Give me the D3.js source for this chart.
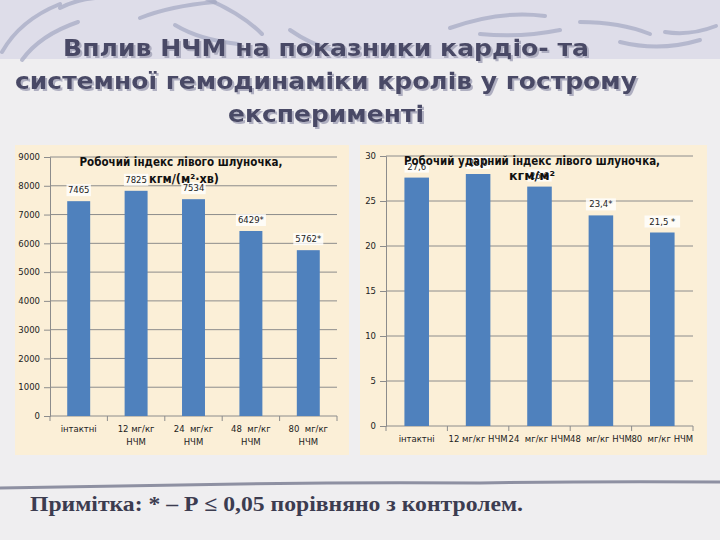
<!DOCTYPE html>
<html>
<head>
<meta charset="utf-8">
<script src="https://cdn.jsdelivr.net/npm/d3@7/dist/d3.min.js"></script>
<style>
  body { margin: 0; background: #eeedf1; }
  svg { display: block; }
</style>
</head>
<body>
<svg id="slide" width="720" height="540"></svg>
<script>
// data
const groups = ["інтактні", "12 мг/кг НЧМ", "24  мг/кг НЧМ", "48  мг/кг НЧМ", "80  мг/кг НЧМ"];
const workIndex = [7465, 7825, 7534, 6429, 5762];
const workLabels = ["7465", "7825", "7534", "6429*", "5762*"];
const workTicks = [0, 1000, 2000, 3000, 4000, 5000, 6000, 7000, 8000, 9000];
const strokeIndex = [27.6, 28.0, 26.6, 23.4, 21.5];
const strokeLabels = ["27,6", "28,0", "26,6", "23,4*", "21,5 *"];
const strokeTicks = [0, 5, 10, 15, 20, 25, 30];

const titleLines = ["Вплив НЧМ на показники кардіо- та", "системної гемодинаміки кролів у гострому", "експерименті"];
const note = "Примітка: * – Р ≤ 0,05 порівняно з контролем.";

const svg = d3.select("#slide");

const defs = svg.append("defs");
defs.append("filter").attr("id", "shadow").attr("x", "-5%").attr("y", "-20%").attr("width", "110%").attr("height", "140%")
  .append("feDropShadow").attr("dx", 2).attr("dy", 2).attr("stdDeviation", 0.6)
  .attr("flood-color", "#a8a8bc").attr("flood-opacity", 0.9);

// background
svg.append("rect").attr("width", 720).attr("height", 540).attr("fill", "#efeef0");
svg.append("rect").attr("width", 720).attr("height", 59).attr("fill", "#dedde9");

// decorative swooshes at the top
const swooshes = [
  "M2,52 Q20,20 60,4", "M22,60 Q40,35 78,22", "M60,8 Q75,0 95,-2",
  "M140,18 Q170,6 215,2", "M175,25 Q200,40 238,44", "M200,-4 Q240,12 262,34",
  "M290,30 Q310,44 332,50",
  "M450,28 Q500,10 545,16", "M480,34 Q520,38 560,30",
  "M580,22 Q620,22 650,34", "M620,42 Q660,52 700,40", "M665,32 Q690,36 716,26"
];
svg.append("g").selectAll("path").data(swooshes).join("path")
  .attr("d", d => d).attr("fill", "none").attr("stroke", "#a4a8c2")
  .attr("stroke-width", 4).attr("stroke-linecap", "round").attr("opacity", 0.7);

// title
const title = svg.append("g").attr("font-family", "'DejaVu Sans Condensed', 'DejaVu Sans', sans-serif")
  .attr("font-weight", "bold").attr("font-size", 23).attr("text-anchor", "middle")
  .attr("filter", "url(#shadow)");
const titleY = [56, 89, 122];
const titleW = [526, 622, 196];
title.selectAll(null).data(titleLines).join("text")
  .attr("x", 326).attr("y", (d, i) => titleY[i])
  .attr("textLength", (d, i) => titleW[i]).attr("lengthAdjust", "spacingAndGlyphs")
  .attr("fill", "#4a4a66").text(d => d);

function drawChart(o) {
  const g = svg.append("g").attr("font-family", "'DejaVu Sans', sans-serif");
  g.append("rect").attr("x", o.panel[0]).attr("y", o.panel[1])
    .attr("width", o.panel[2]).attr("height", o.panel[3]).attr("fill", "#fbefd7");

  const x = d3.scaleBand().domain(groups).range([o.x0, o.x1]).paddingInner(0.6).paddingOuter(0.3);
  const y = d3.scaleLinear().domain([0, o.max]).range([o.y0, o.y1]);

  // grid
  g.append("g").selectAll("line").data(o.ticks.slice(1)).join("line")
    .attr("x1", o.x0).attr("x2", o.x1).attr("y1", d => y(d)).attr("y2", d => y(d))
    .attr("stroke", "#8c8c8c").attr("stroke-width", 1);

  // y axis
  const ya = g.append("g").attr("transform", `translate(${o.x0},0)`)
    .call(d3.axisLeft(y).tickValues(o.ticks).tickFormat(d3.format("d")).tickSize(6).tickPadding(4));
  ya.selectAll("path, line").attr("stroke", "#8c8c8c");
  ya.selectAll("text").attr("font-size", 8.5).attr("fill", "#222").attr("font-family", "'DejaVu Sans', sans-serif");

  // x axis line and boundary ticks
  g.append("line").attr("x1", o.x0).attr("x2", o.x1).attr("y1", o.y0).attr("y2", o.y0).attr("stroke", "#8c8c8c");
  const bounds = groups.map(d => x(d) - x.step() * 0.3).concat([o.x1]);
  g.append("g").selectAll("line").data(bounds).join("line")
    .attr("x1", d => d).attr("x2", d => d).attr("y1", o.y0).attr("y2", o.y0 + 5).attr("stroke", "#8c8c8c");

  // bars
  g.append("g").selectAll("rect").data(o.values).join("rect")
    .attr("x", (d, i) => x(groups[i])).attr("width", x.bandwidth())
    .attr("y", d => y(d)).attr("height", d => o.y0 - y(d)).attr("fill", "#4f81bd");

  // data labels
  const lab = g.append("g").selectAll("g").data(o.values).join("g")
    .attr("transform", (d, i) => `translate(${x(groups[i]) + x.bandwidth() / 2},${y(d) - 11})`);
  lab.append("rect").attr("x", (d, i) => -o.labels[i].length * 2.8 - 1).attr("y", -6)
    .attr("width", (d, i) => o.labels[i].length * 5.6 + 2).attr("height", 12).attr("fill", "#ffffff").attr("opacity", 0.8);
  lab.append("text").attr("text-anchor", "middle").attr("dy", 3).attr("font-size", 8.5).attr("fill", "#222")
    .text((d, i) => o.labels[i]);

  // category labels
  const cl = g.append("g").attr("font-size", 8.5).attr("fill", "#222").attr("text-anchor", "middle");
  groups.forEach(name => {
    const cx = x(name) + x.bandwidth() / 2;
    const lines = o.wrap ? name.split(/(?=НЧМ)/).map(s => s.trim()) : [name];
    lines.forEach((ln, k) => {
      cl.append("text").attr("x", cx).attr("y", o.y0 + 16 + k * 13).attr("xml:space", "preserve").text(ln);
    });
  });

  // chart title
  const t = g.append("g").attr("font-weight", "bold").attr("font-size", 13).attr("fill", "#111").attr("text-anchor", "middle");
  o.title.forEach((ln, k) => {
    const tx = t.append("text").attr("x", o.titleX[k]).attr("y", o.titleY[k]).text(ln);
    if (o.titleW[k]) tx.attr("textLength", o.titleW[k]).attr("lengthAdjust", "spacingAndGlyphs");
  });
}

drawChart({
  panel: [15, 145, 334, 310], x0: 50, x1: 337, y0: 416, y1: 157, max: 9000,
  ticks: workTicks, values: workIndex, labels: workLabels, wrap: true,
  title: ["Робочий індекс лівого шлуночка,", "кгм/(м²·хв)"], titleX: [181, 184], titleY: [166, 183], titleW: [203, 70]
});

drawChart({
  panel: [360, 145, 347, 310], x0: 386, x1: 693, y0: 426, y1: 156, max: 30,
  ticks: strokeTicks, values: strokeIndex, labels: strokeLabels, wrap: false,
  title: ["Робочий ударний індекс лівого шлуночка,", "кгм/м²"], titleX: [532, 532], titleY: [165, 180], titleW: [256, 46]
});

// footnote with separator line
svg.append("path").attr("d", "M0,488 Q120,486 240,484 T480,483 Q600,481 720,482")
  .attr("fill", "none").attr("stroke", "#8e90a2").attr("stroke-width", 3);
svg.append("text").attr("x", 30).attr("y", 511)
  .attr("font-family", "'Liberation Serif', 'Times New Roman', serif").attr("font-weight", "bold")
  .attr("font-size", 21).attr("fill", "#3c3c50")
  .attr("textLength", 493).attr("lengthAdjust", "spacingAndGlyphs").text(note);
</script>
</body>
</html>
